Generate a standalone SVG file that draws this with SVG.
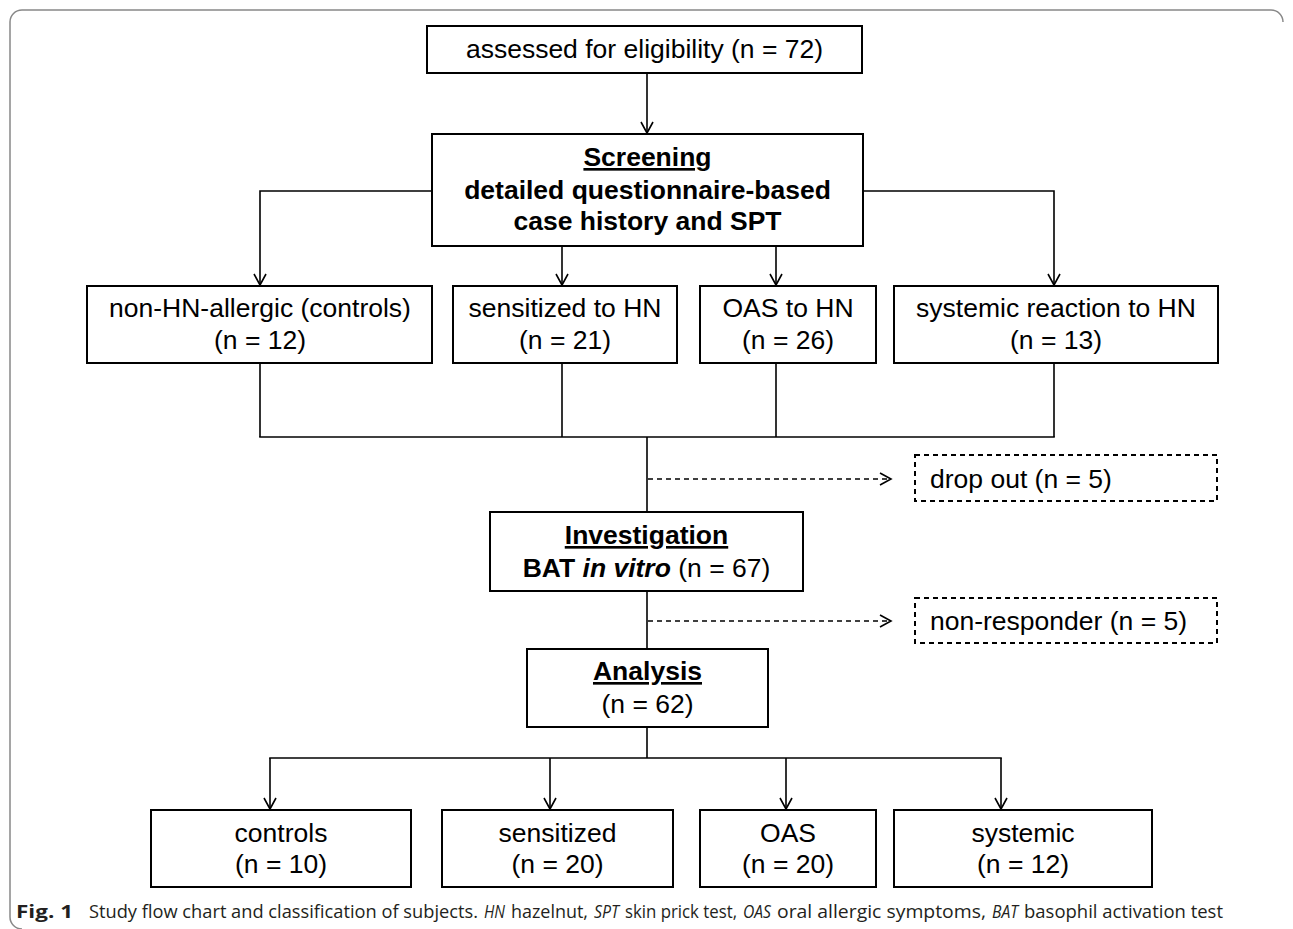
<svg xmlns="http://www.w3.org/2000/svg" width="1293" height="929" viewBox="0 0 1293 929">
<style>
.box{fill:#fff;stroke:#000;stroke-width:2}
.dbox{fill:#fff;stroke:#000;stroke-width:2;stroke-dasharray:5 4}
.t{font-family:"Liberation Sans",Arial,sans-serif;font-size:26.5px;fill:#000;text-anchor:middle}
.tl{font-family:"Liberation Sans",Arial,sans-serif;font-size:26.5px;fill:#000}
.b{font-weight:bold}
.u{text-decoration:underline}
.ln{fill:none;stroke:#000;stroke-width:1.6}
.dl{fill:none;stroke:#000;stroke-width:1.6;stroke-dasharray:5 4}
.cap{font-family:"Open Sans","Noto Sans",sans-serif;font-size:18px;fill:#231f20}
.it{font-style:italic}
</style>
<defs>
<marker id="ah" markerUnits="userSpaceOnUse" markerWidth="16" markerHeight="16" refX="12" refY="7" orient="auto">
<path d="M1,1 L12,7 L1,13" fill="none" stroke="#000" stroke-width="1.6"/>
</marker>
</defs>
<rect width="1293" height="929" fill="#fff"/>
<path d="M1283,22 A12,12 0 0 0 1271,10 L22,10 A12,12 0 0 0 10,22 L10,917 A12,12 0 0 0 22,929" fill="none" stroke="#888" stroke-width="1.5"/>

<g id="connectors">
<line class="ln" x1="647" y1="73" x2="647" y2="133" marker-end="url(#ah)"/>
<polyline class="ln" points="432,191 260,191 260,285" marker-end="url(#ah)"/>
<polyline class="ln" points="863,191 1054,191 1054,285" marker-end="url(#ah)"/>
<line class="ln" x1="562" y1="246" x2="562" y2="285" marker-end="url(#ah)"/>
<line class="ln" x1="776" y1="246" x2="776" y2="285" marker-end="url(#ah)"/>
<line class="ln" x1="260" y1="363" x2="260" y2="437"/>
<line class="ln" x1="562" y1="363" x2="562" y2="437"/>
<line class="ln" x1="776" y1="363" x2="776" y2="437"/>
<line class="ln" x1="1054" y1="363" x2="1054" y2="437"/>
<line class="ln" x1="259.2" y1="437" x2="1054.8" y2="437"/>
<line class="ln" x1="647" y1="437" x2="647" y2="512"/>
<line class="dl" x1="648" y1="479" x2="891" y2="479" marker-end="url(#ah)"/>
<line class="ln" x1="647" y1="591" x2="647" y2="649"/>
<line class="dl" x1="648" y1="621" x2="891" y2="621" marker-end="url(#ah)"/>
<line class="ln" x1="647" y1="727" x2="647" y2="758"/>
<line class="ln" x1="269.2" y1="758" x2="1001.8" y2="758"/>
<line class="ln" x1="270" y1="758" x2="270" y2="809" marker-end="url(#ah)"/>
<line class="ln" x1="550" y1="758" x2="550" y2="809" marker-end="url(#ah)"/>
<line class="ln" x1="786" y1="758" x2="786" y2="809" marker-end="url(#ah)"/>
<line class="ln" x1="1001" y1="758" x2="1001" y2="809" marker-end="url(#ah)"/>
</g>

<g id="assessed">
<rect class="box" x="427" y="26" width="435" height="47"/>
<text class="t" x="644.5" y="58">assessed for eligibility (n = 72)</text>
</g>
<g id="screening">
<rect class="box" x="432" y="134" width="431" height="112"/>
<text class="t b u" x="647.5" y="166">Screening</text>
<text class="t b" x="647.5" y="199">detailed questionnaire-based</text>
<text class="t b" x="647.5" y="230">case history and SPT</text>
</g>
<g id="nonallergic">
<rect class="box" x="87" y="286" width="345" height="77"/>
<text class="t" x="260" y="317">non-HN-allergic (controls)</text>
<text class="t" x="260" y="349">(n = 12)</text>
</g>
<g id="sensitizedHN">
<rect class="box" x="453" y="286" width="224" height="77"/>
<text class="t" x="565" y="317">sensitized to HN</text>
<text class="t" x="565" y="349">(n = 21)</text>
</g>
<g id="oasHN">
<rect class="box" x="700" y="286" width="176" height="77"/>
<text class="t" x="788" y="317">OAS to HN</text>
<text class="t" x="788" y="349">(n = 26)</text>
</g>
<g id="systemicHN">
<rect class="box" x="894" y="286" width="324" height="77"/>
<text class="t" x="1056" y="317">systemic reaction to HN</text>
<text class="t" x="1056" y="349">(n = 13)</text>
</g>
<g id="dropout">
<rect class="dbox" x="915" y="455" width="302" height="46"/>
<text class="tl" x="930" y="488">drop out (n = 5)</text>
</g>
<g id="investigation">
<rect class="box" x="490" y="512" width="313" height="79"/>
<text class="t b u" x="646.5" y="544">Investigation</text>
<text class="t" x="646.5" y="577"><tspan class="b">BAT </tspan><tspan class="b" font-style="italic">in vitro</tspan> (n = 67)</text>
</g>
<g id="nonresponder">
<rect class="dbox" x="915" y="598" width="302" height="45"/>
<text class="tl" x="930" y="630">non-responder (n = 5)</text>
</g>
<g id="analysis">
<rect class="box" x="527" y="649" width="241" height="78"/>
<text class="t b u" x="647.5" y="680">Analysis</text>
<text class="t" x="647.5" y="713">(n = 62)</text>
</g>
<g id="controls">
<rect class="box" x="151" y="810" width="260" height="77"/>
<text class="t" x="281" y="842">controls</text>
<text class="t" x="281" y="873">(n = 10)</text>
</g>
<g id="sensitized">
<rect class="box" x="442" y="810" width="231" height="77"/>
<text class="t" x="557.5" y="842">sensitized</text>
<text class="t" x="557.5" y="873">(n = 20)</text>
</g>
<g id="oas">
<rect class="box" x="700" y="810" width="176" height="77"/>
<text class="t" x="788" y="842">OAS</text>
<text class="t" x="788" y="873">(n = 20)</text>
</g>
<g id="systemic">
<rect class="box" x="894" y="810" width="258" height="77"/>
<text class="t" x="1023" y="842">systemic</text>
<text class="t" x="1023" y="873">(n = 12)</text>
</g>

<g id="caption">
<text class="cap" x="16" y="918" font-weight="bold" textLength="57" lengthAdjust="spacingAndGlyphs">Fig. 1</text>
<text class="cap" x="89" y="918" textLength="389" lengthAdjust="spacingAndGlyphs">Study flow chart and classification of subjects.</text>
<text class="cap it" x="484" y="918" textLength="21" lengthAdjust="spacingAndGlyphs">HN</text>
<text class="cap" x="511" y="918" textLength="77" lengthAdjust="spacingAndGlyphs">hazelnut,</text>
<text class="cap it" x="594" y="918" textLength="25" lengthAdjust="spacingAndGlyphs">SPT</text>
<text class="cap" x="625" y="918" textLength="112" lengthAdjust="spacingAndGlyphs">skin prick test,</text>
<text class="cap it" x="743" y="918" textLength="28" lengthAdjust="spacingAndGlyphs">OAS</text>
<text class="cap" x="777" y="918" textLength="209" lengthAdjust="spacingAndGlyphs">oral allergic symptoms,</text>
<text class="cap it" x="992" y="918" textLength="26" lengthAdjust="spacingAndGlyphs">BAT</text>
<text class="cap" x="1024" y="918" textLength="199" lengthAdjust="spacingAndGlyphs">basophil activation test</text>
</g>
</svg>
